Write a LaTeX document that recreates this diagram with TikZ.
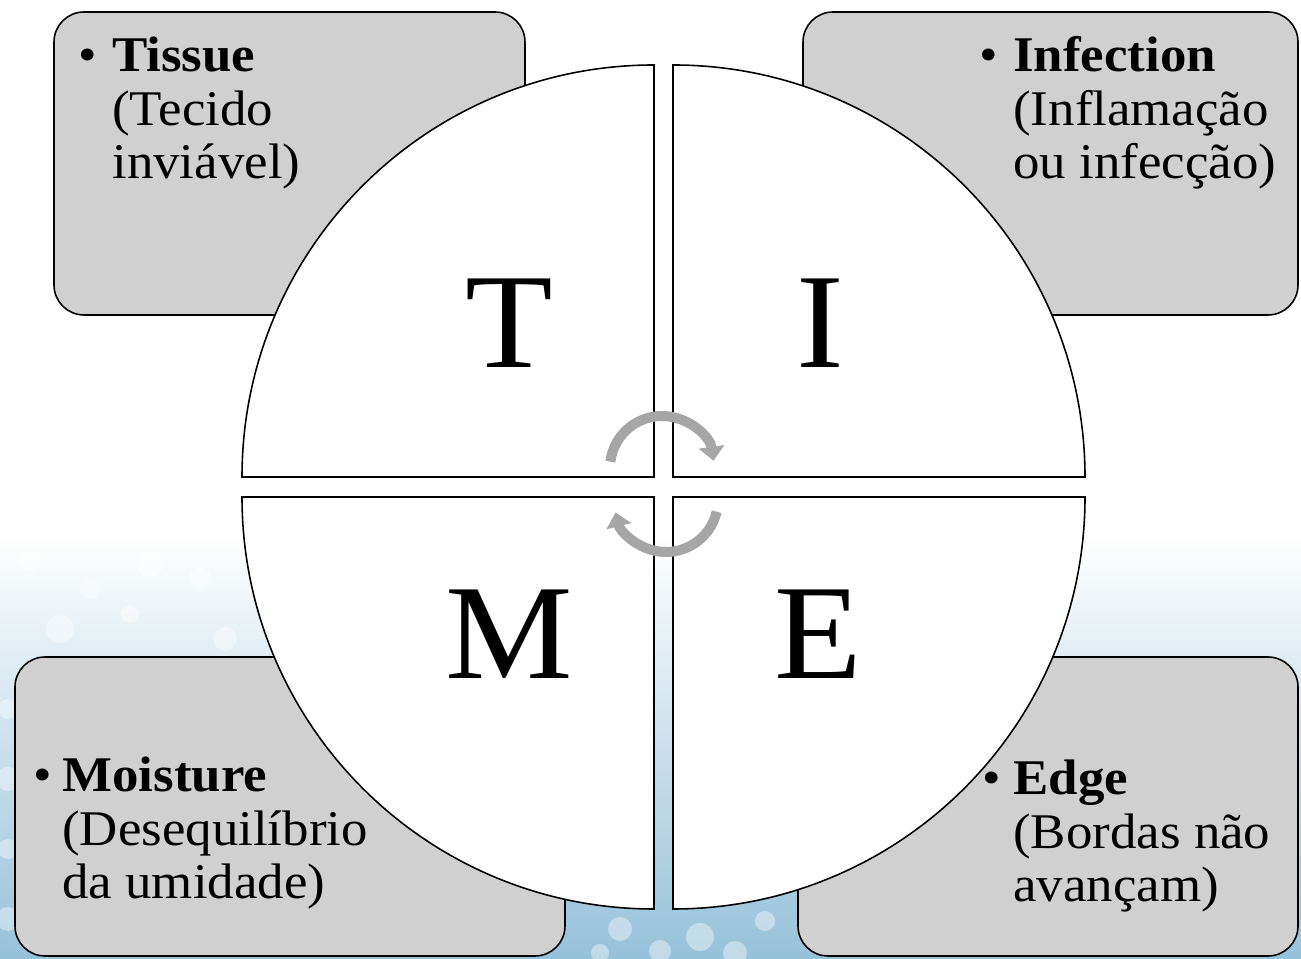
\documentclass[tikz,border=0pt]{standalone}
\usepackage{fontspec}
\setmainfont{Liberation Serif}[FakeStretch=1.06]
\usetikzlibrary{arrows.meta, fadings}
\definecolor{boxgray}{RGB}{208, 208, 208}
\definecolor{arrowgray}{RGB}{166, 166, 166}
\definecolor{bgblue}{RGB}{150, 194, 218}

\newcommand{\timeitem}[4]{\begin{tabular}[t]{@{}l@{}}\llap{\textbullet\hspace{#1}}\textbf{#2}\\#3\\#4\end{tabular}}

\tikzset{
  cornerbox/.style={draw=black, line width=0.9pt, fill=boxgray, rounded corners=0.6cm},
  quadrant/.style={draw=black, line width=0.9pt, fill=white},
  bigletter/.style={font=\fontsize{77}{82}\selectfont, anchor=base, inner sep=0pt},
  itemtext/.style={font=\fontsize{28.4}{30.2}\selectfont, anchor=base west, inner sep=0pt},
  cyclearrow/.style={draw=arrowgray, line width=0.2cm, -{Triangle[width=0.5cm, length=0.28cm]}}
}

\begin{document}
\begin{tikzpicture}[x=0.02cm, y=0.02cm]
\useasboundingbox (0,0) rectangle (1301,959);
% Background
\fill[white] (0,0) rectangle (1301,959);
\fill[bgblue, path fading=north] (0,0) rectangle (1301,420);
\foreach \x/\y/\r in {30/400/12, 90/370/10, 150/395/13, 60/330/14, 130/345/9, 200/380/11,
    225/320/12, 620/30/12, 700/22/14, 765/38/10,
    600/6/9, 660/8/11, 735/6/12, 8/250/10, 8/180/12, 8/110/10, 8/40/12} {
  \fill[white, opacity=0.4] (\x,\y) circle (\r);
}
% Corner boxes
\draw[cornerbox] (54,644) rectangle (525,947);
\draw[cornerbox] (803,644) rectangle (1298,947);
\draw[cornerbox] (15,3) rectangle (565,302);
\draw[cornerbox] (798,3) rectangle (1298,302);
% Quadrants
\draw[quadrant] (654,482) -- ++(-412,0) arc (180:90:412) -- cycle;
\draw[quadrant] (673,482) -- ++(0,412) arc (90:0:412) -- cycle;
\draw[quadrant] (673,462) -- ++(412,0) arc (0:-90:412) -- cycle;
\draw[quadrant] (654,462) -- ++(0,-412) arc (270:180:412) -- cycle;
% Letters
\node[bigletter] (letT) at (509,591) {T};
\node[bigletter] (letI) at (820,591) {I};
\node[bigletter] (letM) at (509,280) {M};
\node[bigletter] (letE) at (818,280) {E};
% Cycle arrows
\coordinate (upc) at (662,491);
\coordinate (loc) at (666,459);
\draw[cyclearrow] ([shift={(173:52)}]upc) arc (173:8:52);
\draw[cyclearrow] ([shift={(-13:52)}]loc) arc (-13:-166:52);
% Texts
\node[itemtext] (tissue) at (112,887) {\timeitem{9pt}{Tissue}{(Tecido}{inviável)}};
\node[itemtext] (infection) at (1013,887) {\timeitem{9pt}{Infection}{(Inflamação}{ou infecção)}};
\node[itemtext] (moisture) at (62,167) {\timeitem{6pt}{Moisture}{(Desequilíbrio}{da umidade)}};
\node[itemtext] (edge) at (1013,164) {\timeitem{7pt}{Edge}{(Bordas não}{avançam)}};
\end{tikzpicture}
\end{document}
